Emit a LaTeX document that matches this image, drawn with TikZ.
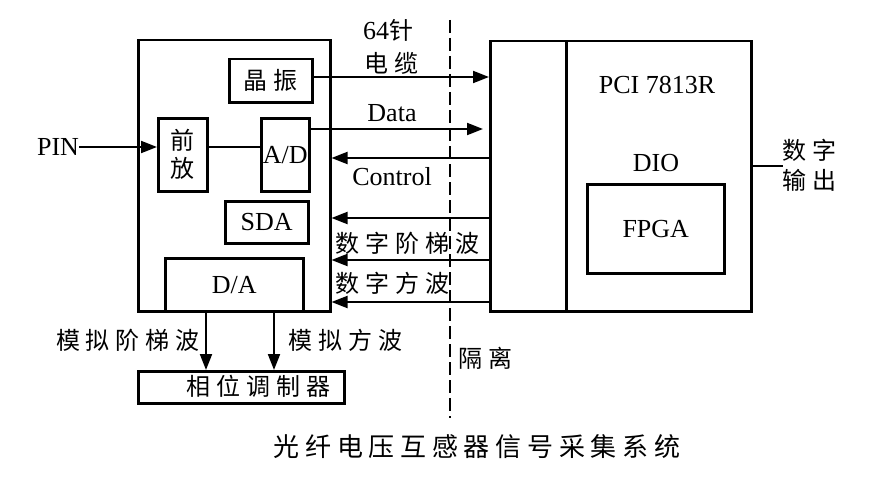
\documentclass[tikz,border=0pt]{standalone}
\usepackage{fontspec}
\setmainfont{Liberation Serif}
\newfontfamily\cjk[LetterSpace=25]{Noto Sans CJK SC}
\newfontfamily\cjkcap[LetterSpace=22]{Noto Sans CJK SC}
\usetikzlibrary{arrows.meta}
\begin{document}
\begin{tikzpicture}[x=1pt,y=-1pt,
  box/.style={draw,line width=2.5pt,inner sep=0pt,anchor=north west},
  lat/.style={font=\fontsize{26}{28}\selectfont,inner sep=0pt},
  zh/.style={font=\cjk\fontsize{24}{28}\selectfont,inner sep=0pt},
  conn/.style={line width=2pt},
  arr/.style={conn,-{Triangle[length=16pt,width=12pt]}},
  iso/.style={line width=2.5pt,dash pattern=on 13pt off 5pt}
]
\useasboundingbox (0,0) rectangle (876,487);
\fill[white] (0,0) rectangle (876,487);

% left board
\node[box,minimum width=192pt,minimum height=271pt] (left) at (137,39) {};
\node[box,minimum width=83pt,minimum height=43pt,zh] (xo) at (228,58) {晶振};
\node[box,minimum width=49pt,minimum height=73pt,zh,align=center] (pre) at (157,117) {前\\放};
\node[box,minimum width=48pt,minimum height=73pt,lat] (ad) at (260,117) {A/D};
\node[box,minimum width=83pt,minimum height=42pt,lat] (sda) at (224,200) {SDA};
\node[box,minimum width=138pt,minimum height=53pt,lat] (da) at (164,257) {D/A};
\node[box,minimum width=206pt,minimum height=32pt] (mod) at (137,370) {};
\node[zh] (modt) at (258,386) {相位调制器};

% PCI board
\node[box,minimum width=76pt,minimum height=270pt] (pcic) at (489,40) {};
\node[box,minimum width=185pt,minimum height=270pt] (pci) at (565,40) {};
\node[lat] (pcit) at (657,85) {PCI 7813R};
\node[lat] (dio) at (656,163) {DIO};
\node[box,minimum width=137pt,minimum height=89pt,lat] (fpga) at (586,183) {FPGA};

% texts
\node[lat] (pin) at (58,147) {PIN};
\node[inner sep=0pt] (t64) at (388,30) {\fontsize{26}{28}\selectfont 64\cjk\fontsize{24}{28}\selectfont 针};
\node[zh] (cable) at (391,63) {电缆};
\node[lat] (data) at (392,113) {Data};
\node[lat] (ctl) at (392,177) {Control};
\node[zh,anchor=west] (dstep) at (335,243) {数字阶梯波};
\node[zh,anchor=west] (dsq) at (335,283) {数字方波};
\node[zh] (isot) at (485,358) {隔离};
\node[zh] (out1) at (809,150) {数字};
\node[zh] (out2) at (809,180) {输出};
\node[zh] (astep) at (128,340) {模拟阶梯波};
\node[zh] (asq) at (345,340) {模拟方波};
\node[inner sep=0pt,font=\cjkcap\fontsize{26}{28}\selectfont] (cap) at (477,447) {光纤电压互感器信号采集系统};

% coordinates
\coordinate (ytop) at (0,77);
\coordinate (dataend) at (483,129);
\coordinate (yctl) at (0,158);
\coordinate (yw1) at (0,218);
\coordinate (yw2) at (0,260);
\coordinate (yw3) at (0,302);
\coordinate (outend) at (783,166);
\coordinate (xa1) at (206,0);
\coordinate (xa2) at (274,0);
\coordinate (isotop) at (450,20);
\coordinate (isobot) at (450,418);

% connectors
\draw[arr] (pin.east) -- (pin.east -| pre.west);
\draw[conn] (pre.east |- pin) -- (ad.west |- pin);
\draw[arr] (xo.east |- ytop) -- (pcic.west |- ytop);
\draw[arr] (ad.east |- dataend) -- (dataend);
\draw[arr] (pcic.west |- yctl) -- (left.east |- yctl);
\draw[arr] (pcic.west |- yw1) -- (left.east |- yw1);
\draw[arr] (pcic.west |- yw2) -- (left.east |- yw2);
\draw[arr] (pcic.west |- yw3) -- (left.east |- yw3);
\draw[conn] (pci.east |- outend) -- (outend);
\draw[arr] (left.south -| xa1) -- (mod.north -| xa1);
\draw[arr] (left.south -| xa2) -- (mod.north -| xa2);
\draw[iso] (isotop) -- (isobot);
\end{tikzpicture}
\end{document}
